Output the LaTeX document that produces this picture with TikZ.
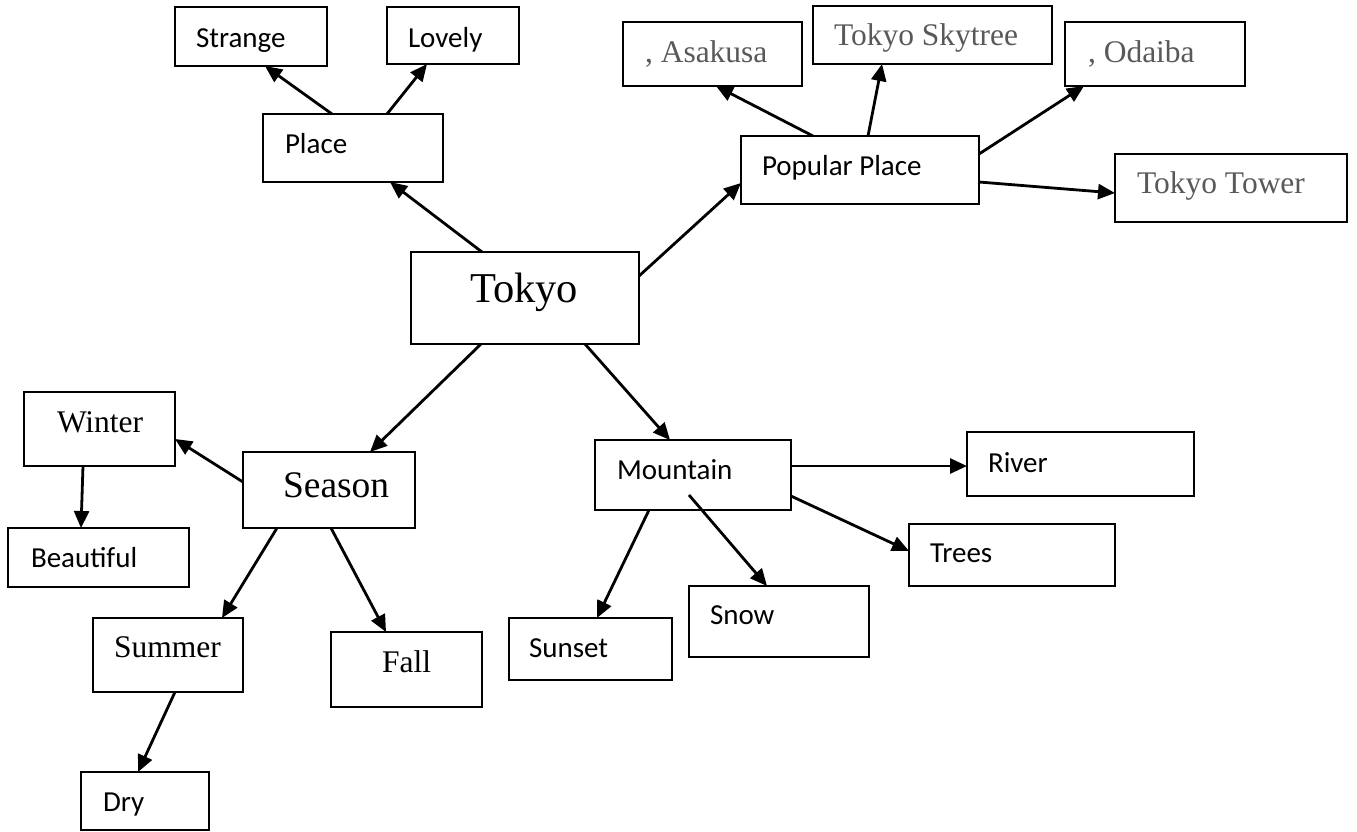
\documentclass[tikz,border=0pt]{standalone}
\usepackage{fontspec}
\newfontfamily\labelsans{Carlito}
\newfontfamily\labelserif{Liberation Serif}
\usetikzlibrary{arrows.meta}
\definecolor{softgrey}{RGB}{89,89,89}

% \mapbox{name}{x1}{y1}{x2}{y2}: a frame whose top-left corner is (x1,y1)
\newcommand\mapbox[5]{%
  \node[frame, minimum width={(#4-#2)*1pt}, minimum height={(#5-#3)*1pt}] (#1) at (#2,#3) {};}

\tikzset{
  frame/.style={draw, line width=2.4pt, anchor=north west, inner sep=0pt, outer sep=0pt},
  word/.style={anchor=base west, inner sep=0pt, outer sep=0pt},
  sanslabel/.style={word, font=\labelsans\fontsize{29}{34}\selectfont},
  seriflabel/.style={word, font=\labelserif\fontsize{31.5}{38}\selectfont},
  greylabel/.style={seriflabel, text=softgrey},
  link/.style={line width=2.8pt, -{Triangle[length=17pt, width=15pt]}}
}

\begin{document}
\begin{tikzpicture}[x=1pt, y=-1pt]
\useasboundingbox (0,0) rectangle (1357,831);

% frames
\mapbox{strange}{175}{7}{327}{66}
\mapbox{lovely}{387}{7}{519}{64}
\mapbox{place}{263}{114}{443}{182}
\mapbox{asakusa}{623}{22}{802}{86}
\mapbox{skytree}{813}{6}{1052}{64}
\mapbox{odaiba}{1065}{22}{1245}{86}
\mapbox{popular}{741}{136}{979}{204}
\mapbox{tower}{1115}{154}{1347}{222}
\mapbox{tokyo}{411}{252}{639}{344}
\mapbox{winter}{24}{392}{175}{466}
\mapbox{season}{243}{452}{415}{528}
\mapbox{beautiful}{8}{528}{189}{587}
\mapbox{summer}{93}{618}{243}{692}
\mapbox{fall}{331}{632}{482}{707}
\mapbox{dry}{81}{772}{209}{830}
\mapbox{mountain}{595}{440}{791}{510}
\mapbox{river}{967}{432}{1194}{496}
\mapbox{trees}{909}{524}{1115}{586}
\mapbox{snow}{689}{586}{869}{657}
\mapbox{sunset}{509}{618}{672}{680}

% labels
\node[sanslabel] (strange-t) at (196,47) {Strange};
\node[sanslabel] (lovely-t) at (408,47) {Lovely};
\node[sanslabel] (place-t) at (285,153) {Place};
\node[greylabel] (asakusa-t) at (645,62) {, Asakusa};
\node[greylabel] (skytree-t) at (834,45) {Tokyo Skytree};
\node[greylabel] (odaiba-t) at (1088,62) {, Odaiba};
\node[sanslabel] (popular-t) at (762,175) {Popular Place};
\node[greylabel] (tower-t) at (1137,193) {Tokyo Tower};
\node[word, font=\labelserif\fontsize{42.5}{50}\selectfont] (tokyo-t) at (470,302) {Tokyo};
\node[seriflabel] (winter-t) at (57,432) {Winter};
\node[word, font=\labelserif\fontsize{37.5}{44}\selectfont] (season-t) at (283,497) {Season};
\node[sanslabel] (beautiful-t) at (31,567) {Beautiful};
\node[seriflabel] (summer-t) at (114,657) {Summer};
\node[seriflabel] (fall-t) at (382,672) {Fall};
\node[sanslabel] (dry-t) at (103,811) {Dry};
\node[sanslabel] (mountain-t) at (617,479) {Mountain};
\node[sanslabel] (river-t) at (988,472) {River};
\node[sanslabel] (trees-t) at (930,562) {Trees};
\node[sanslabel] (snow-t) at (710,624) {Snow};
\node[sanslabel] (sunset-t) at (529,657) {Sunset};

% connectors
\draw[link] ([xshift=71pt]tokyo.north west) -- ([xshift=127pt]place.south west);
\draw[link] ([xshift=69pt]place.north west) -- ([xshift=90pt]strange.south west);
\draw[link] ([xshift=124pt]place.north west) -- ([xshift=40pt]lovely.south west);
\draw[link] ([yshift=-24pt]tokyo.north east) -- ([yshift=21pt]popular.south west);
\draw[link] ([xshift=72pt]popular.north west) -- ([xshift=93pt]asakusa.south west);
\draw[link] ([xshift=127pt]popular.north west) -- ([xshift=69pt]skytree.south west);
\draw[link] ([yshift=-18pt]popular.north east) -- ([xshift=19pt]odaiba.south west);
\draw[link] ([yshift=-46pt]popular.north east) -- ([yshift=-39pt]tower.north west);
\draw[link] ([xshift=70pt]tokyo.south west) -- ([xshift=127pt]season.north west);
\draw[link] ([yshift=-30pt]season.north west) -- ([yshift=-47pt]winter.north east);
\draw[link] ([xshift=59pt]winter.south west) -- ([xshift=73pt]beautiful.north west);
\draw[link] ([xshift=34pt]season.south west) -- ([xshift=129pt]summer.north west);
\draw[link] ([xshift=88pt]season.south west) -- ([xshift=55pt]fall.north west);
\draw[link] ([xshift=82pt]summer.south west) -- ([xshift=57pt]dry.north west);
\draw[link] ([xshift=174pt]tokyo.south west) -- ([xshift=75pt]mountain.north west);
\draw[link] ([yshift=-26pt]mountain.north east) -- ([yshift=-34pt]river.north west);
\draw[link] ([yshift=-56pt]mountain.north east) -- ([yshift=-27pt]trees.north west);
\draw[link] ([xshift=94pt, yshift=-55pt]mountain.north west) -- ([xshift=78pt]snow.north west);
\draw[link] ([xshift=54pt]mountain.south west) -- ([xshift=88pt]sunset.north west);
\end{tikzpicture}
\end{document}
